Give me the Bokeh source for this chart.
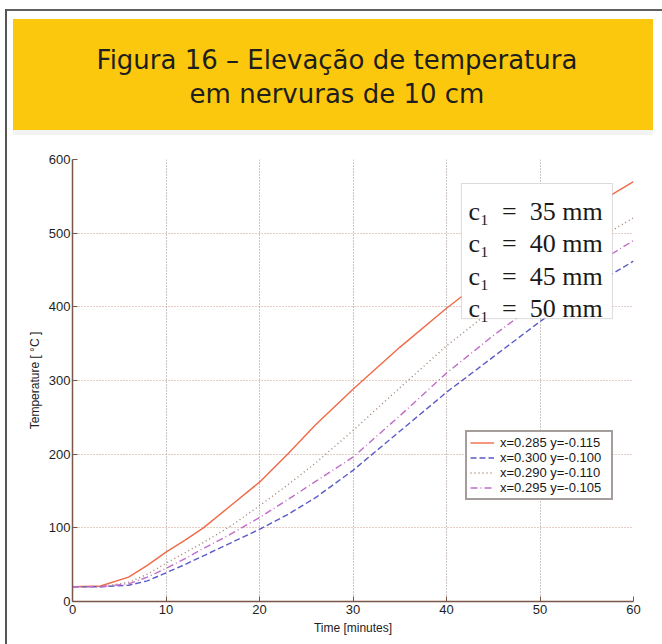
from bokeh.plotting import figure
from bokeh.layouts import column, row
from bokeh.models import Range1d, Legend, LegendItem, BoxAnnotation, Label, FixedTicker, Div
from bokeh.embed import file_html
from bokeh.resources import INLINE

# ---- data -----------------------------------------------------------------
title_lines = ["Figura 16 \u2013 Eleva\u00e7\u00e3o de temperatura",
               "em nervuras de 10 cm"]

time_min = [0, 3, 6, 8, 10, 12, 14, 17, 20, 23, 26, 30, 35, 40, 45, 50, 55, 60]
temp_a = [20, 21, 33, 49, 67, 83, 100, 131, 162, 200, 240, 288, 345, 398, 447, 490, 532, 570]
temp_b = [20, 20, 22, 28, 39, 50, 62, 80, 98, 118, 141, 178, 231, 284, 332, 380, 424, 462]
temp_c = [20, 20, 26, 37, 52, 66, 80, 103, 130, 158, 188, 232, 290, 347, 397, 442, 483, 521]
temp_d = [20, 20, 24, 33, 45, 58, 72, 92, 114, 138, 163, 196, 252, 310, 361, 408, 451, 490]

series_labels = ["x=0.285 y=-0.115", "x=0.300 y=-0.100",
                 "x=0.290 y=-0.110", "x=0.295 y=-0.105"]
c1_mm = [35, 40, 45, 50]

x_ticks = [0, 10, 20, 30, 40, 50, 60]
y_ticks = [0, 100, 200, 300, 400, 500, 600]

# ---- banner with the figure caption ----------------------------------------
banner_html = (
    '<div style="position:relative;width:662px;height:140px;background:white;">'
    '<div style="position:absolute;left:5px;top:9px;width:657px;height:2px;background:#606060;"></div>'
    '<div style="position:absolute;left:5px;top:9px;width:2px;height:131px;background:#555555;"></div>'
    '<div style="position:absolute;left:13px;top:130px;width:640px;height:5px;background:#f3f3f3;"></div>'
    '<div style="position:absolute;left:13px;top:19px;width:640px;height:111px;'
    'box-sizing:border-box;padding-left:8px;padding-top:5px;'
    'background:#fcc80e;display:flex;flex-direction:column;align-items:center;'
    'justify-content:center;font-family:\'DejaVu Sans\';font-size:26px;'
    'line-height:34px;color:#1e1e1e;">'
    + "".join(f"<span>{t}</span>" for t in title_lines) +
    '</div></div>'
)
banner = Div(text=banner_html, width=662, height=140, margin=0)

# thin strip carrying the page rule down the left side of the chart
strip = Div(text='<div style="position:relative;width:7px;height:504px;">'
                 '<div style="position:absolute;left:5px;top:0;width:2px;height:504px;'
                 'background:#555555;"></div></div>',
            width=7, height=504, margin=0)

# ---- chart ------------------------------------------------------------------
p = figure(width=655, height=504, x_range=Range1d(0, 60), y_range=Range1d(0, 600),
           output_backend="svg", toolbar_location=None,
           min_border_left=65, min_border_right=29, min_border_top=19,
           min_border_bottom=43, outline_line_color=None,
           x_axis_label="Time [minutes]", y_axis_label="Temperature [ \u00b0C ]")

p.xaxis.ticker = FixedTicker(ticks=x_ticks)
p.yaxis.ticker = FixedTicker(ticks=y_ticks)
for ax in (p.xaxis[0], p.yaxis[0]):
    ax.axis_line_color = "#7a5548"
    ax.axis_line_width = 1.5
    ax.major_tick_in = 5
    ax.major_tick_out = 0
    ax.major_tick_line_color = "#7a5548"
    ax.minor_tick_line_color = None
    ax.major_label_text_font = "Liberation Sans"
    ax.major_label_text_font_size = "13px"
    ax.major_label_text_color = "#1e1e1e"
    ax.major_label_standoff = 3
    ax.axis_label_text_font = "Liberation Sans"
    ax.axis_label_text_font_size = "12px"
    ax.axis_label_text_font_style = "normal"
    ax.axis_label_text_color = "#222222"
    ax.axis_label_standoff = 4
p.yaxis.major_label_standoff = 2
p.yaxis.axis_label_standoff = 4

p.xgrid.grid_line_color = "#9a8a86"
p.xgrid.grid_line_dash = "1 2"
p.ygrid.grid_line_color = "#c99a88"
p.ygrid.grid_line_dash = "1 2"

r_a = p.line(time_min, temp_a, line_color="#f06a48", line_width=1.4)
r_b = p.line(time_min, temp_b, line_color="#5a5ac8", line_width=1.4, line_dash="6 3")
r_c = p.line(time_min, temp_c, line_color="#a08070", line_width=1.4, line_dash="1 3")
r_d = p.line(time_min, temp_d, line_color="#c06cc8", line_width=1.4, line_dash="7 3 1 3")

legend = Legend(items=[LegendItem(label=lab, renderers=[r])
                       for lab, r in zip(series_labels, [r_a, r_b, r_c, r_d])],
                location=(393, 101), border_line_color="#4a3c38",
                border_line_width=2, background_fill_color="white",
                background_fill_alpha=1, label_text_font="Liberation Sans",
                label_text_font_size="13px", label_text_color="#1a1a1a",
                glyph_width=24, glyph_height=11, label_height=11, label_width=108,
                spacing=0, padding=3, margin=0, label_standoff=6)
p.add_layout(legend)

# boxed note naming the cover of each curve
p.add_layout(BoxAnnotation(left=41.6, right=57.75, bottom=384, top=567.4,
                           fill_color="white", fill_alpha=1,
                           line_color="#8a8a8a", line_width=1))
for i, c in enumerate(c1_mm):
    p.add_layout(Label(x=42.35, y=529.8 - i * 44.0,
                       text=f"c\u2081\u2002=\u2002{c} mm",
                       text_font="Liberation Serif", text_font_size="26px",
                       text_color="#1a1a1a", text_baseline="alphabetic"))

layout = column(banner, row(strip, p, spacing=0), spacing=0)
open("out.html", "w").write(file_html(layout, INLINE))
